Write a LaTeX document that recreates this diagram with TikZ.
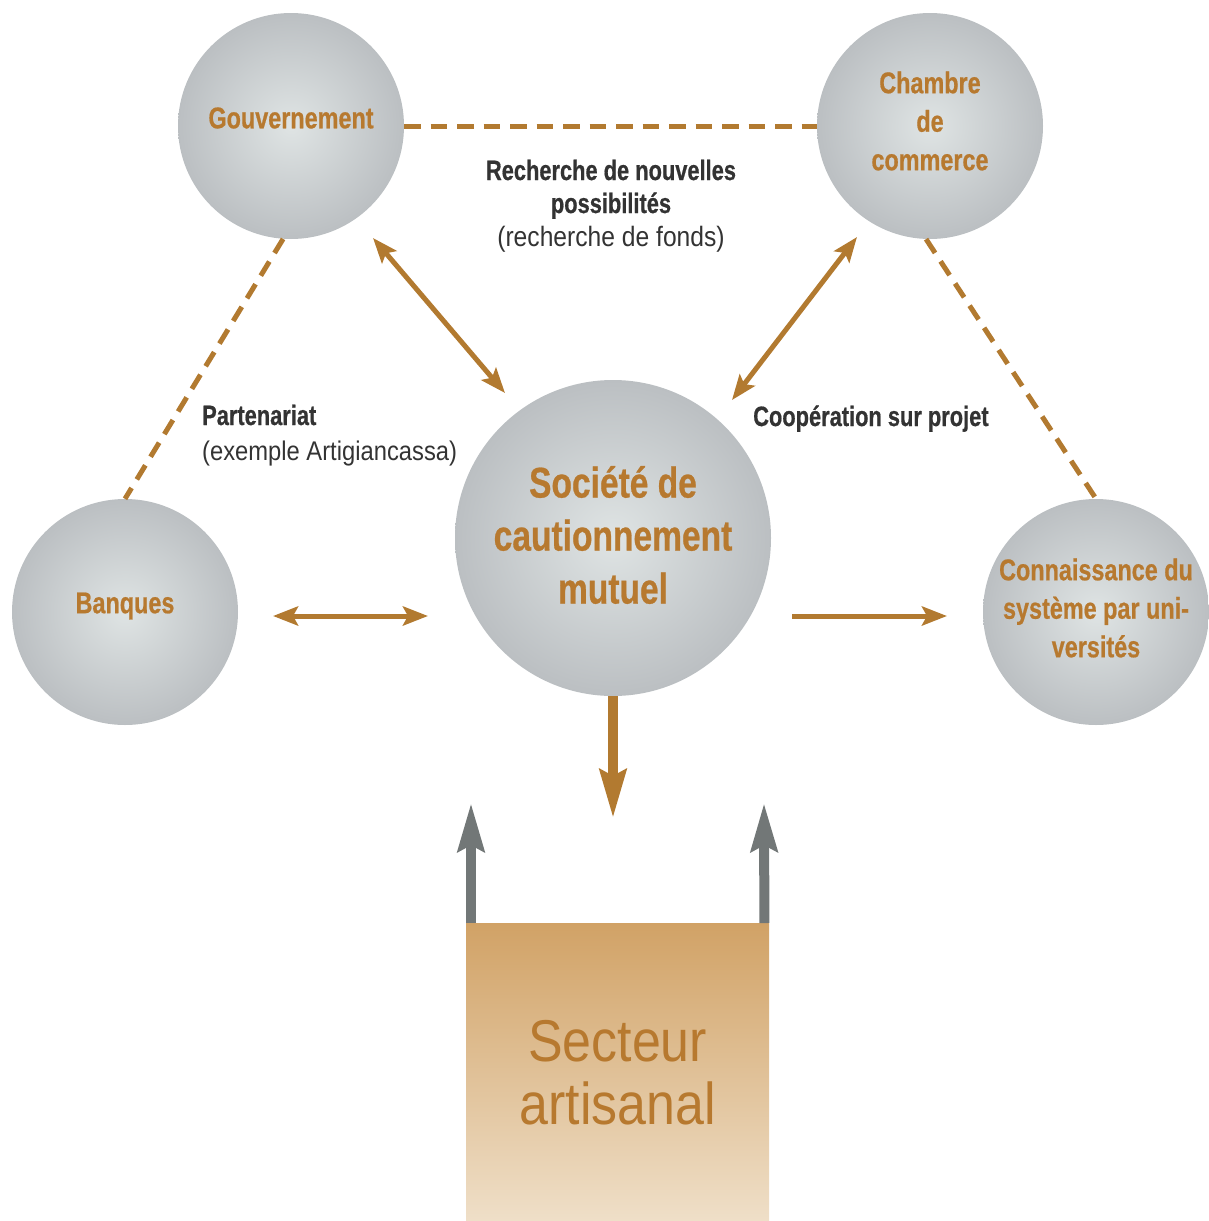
\documentclass[tikz,border=0pt]{standalone}
\usepackage{fontspec}
\setmainfont{Liberation Sans}
\newfontfamily\cnd{Liberation Sans}[FakeStretch=0.78, BoldFeatures={FakeBold=0.6}]
\newfontfamily\lgt{Liberation Sans}[FakeStretch=0.88]
\usetikzlibrary{arrows.meta,calc}
\definecolor{ocre}{HTML}{B27A30}
\definecolor{ocretxt}{HTML}{B7792F}
\definecolor{discin}{HTML}{DFE4E4}
\definecolor{discout}{HTML}{BBBFC2}
\definecolor{slate}{HTML}{727777}
\definecolor{ink}{HTML}{333333}
\definecolor{boxtop}{HTML}{D1A266}
\definecolor{boxbot}{HTML}{EFDFC8}
\begin{document}
\begin{tikzpicture}[x=1pt,y=-1pt,
  disc/.style={circle, minimum size=226pt, inner sep=0pt,
    inner color=discin, outer color=discout},
  bigdisc/.style={disc, minimum size=316pt},
  disctext/.style={text=ocretxt, align=center, inner sep=0pt,
    font=\cnd\bfseries\fontsize{30}{38.5}\selectfont},
  bigtext/.style={disctext, font=\cnd\bfseries\fontsize{43}{53}\selectfont},
  link/.style={ocre, line width=5pt, dash pattern=on 16.5pt off 10pt},
  twoway/.style={ocre, line width=5pt,
    {Stealth[length=25pt,width=19pt,inset=5pt]}-{Stealth[length=25pt,width=19pt,inset=5pt]}},
  oneway/.style={ocre, line width=5pt, -{Stealth[length=25pt,width=19pt,inset=5pt]}},
  flow/.style={line width=10pt, -{Stealth[length=48pt,width=26pt,inset=6pt]}},
  note/.style={text=ink, align=center, inner sep=0pt},
  boldnote/.style={font=\cnd\bfseries\fontsize{28}{33}\selectfont},
  plainnote/.style={font=\lgt\fontsize{27}{34}\selectfont}]
\useasboundingbox (0,0) rectangle (1208,1221);

% actors: discs and their names
\node[disc] (g) at (291,126) {};
\node[disc] (c) at (930,126) {};
\node[disc] (b) at (125,612) {};
\node[disc] (k) at (1096,612) {};
\node[bigdisc] (s) at (613,538) {};
\node[disctext] (gt) at ($(g.center)+(0,-8)$) {Gouvernement};
\node[disctext] (ct) at ($(c.center)+(0,-5)$) {Chambre\\de\\commerce};
\node[disctext] (bt) at ($(b.center)+(0,-6)$) {Banques};
\node[disctext] (kt) at ($(k.center)+(0,-4)$) {Connaissance du\\système par uni-\\versités};
\node[bigtext] (st) at ($(s.center)+(0,-3)$) {Société de\\cautionnement\\mutuel};

% craft sector
\node[minimum width=303pt, minimum height=298pt, inner sep=0pt, anchor=north west,
  top color=boxtop, bottom color=boxbot, text=ocretxt, align=center,
  font=\lgt\fontsize{59}{63}\selectfont] (box) at (466,923) {Secteur\\artisanal};

% dashed partnerships
\draw[link] (g.east) -- (c.west);
\draw[link] (g.-94) -- (b.north);
\draw[link] (c.-92) -- (k.north);

% exchanges with the guarantee society
\coordinate (ga) at ($(g.center)+(82,112)$);
\coordinate (gb) at ($(s.center)+(-108,-145)$);
\draw[twoway] (ga) -- (gb);
\coordinate (ca) at ($(c.center)+(-73,111)$);
\coordinate (cb) at ($(s.center)+(119,-138)$);
\draw[twoway] (ca) -- (cb);
\coordinate (bl) at ($(b.center)+(148,4)$);
\coordinate (br) at ($(s.center)+(-185,78)$);
\draw[twoway] (bl) -- (br);
\coordinate (kl) at ($(s.center)+(179,78)$);
\coordinate (kr) at ($(k.center)+(-149,4)$);
\draw[oneway] (kl) -- (kr);

% vertical flows
\coordinate (down) at (613,818);
\draw[flow, ocre] (s.south) -- (down);
\coordinate (upl) at (471,803);
\coordinate (upr) at (764,803);
\draw[flow, slate] ($(box.north west)+(5,0)$) -- (upl);
\draw[flow, slate] ($(box.north east)+(-5,0)$) -- (upr);

% labels
\node[note, boldnote, anchor=base] (t1) at (611,213) {Recherche de nouvelles\\possibilités};
\node[note, plainnote, font=\lgt\fontsize{28}{34}\selectfont, anchor=base] (t2) at (611,246) {(recherche de fonds)};
\node[note, boldnote, anchor=base west] (t3) at (202,425) {Partenariat};
\node[note, plainnote, anchor=base west] (t4) at (202,460) {(exemple Artigiancassa)};
\node[note, boldnote, anchor=base west] (t5) at (753,426) {Coopération sur projet};
\end{tikzpicture}
\end{document}
